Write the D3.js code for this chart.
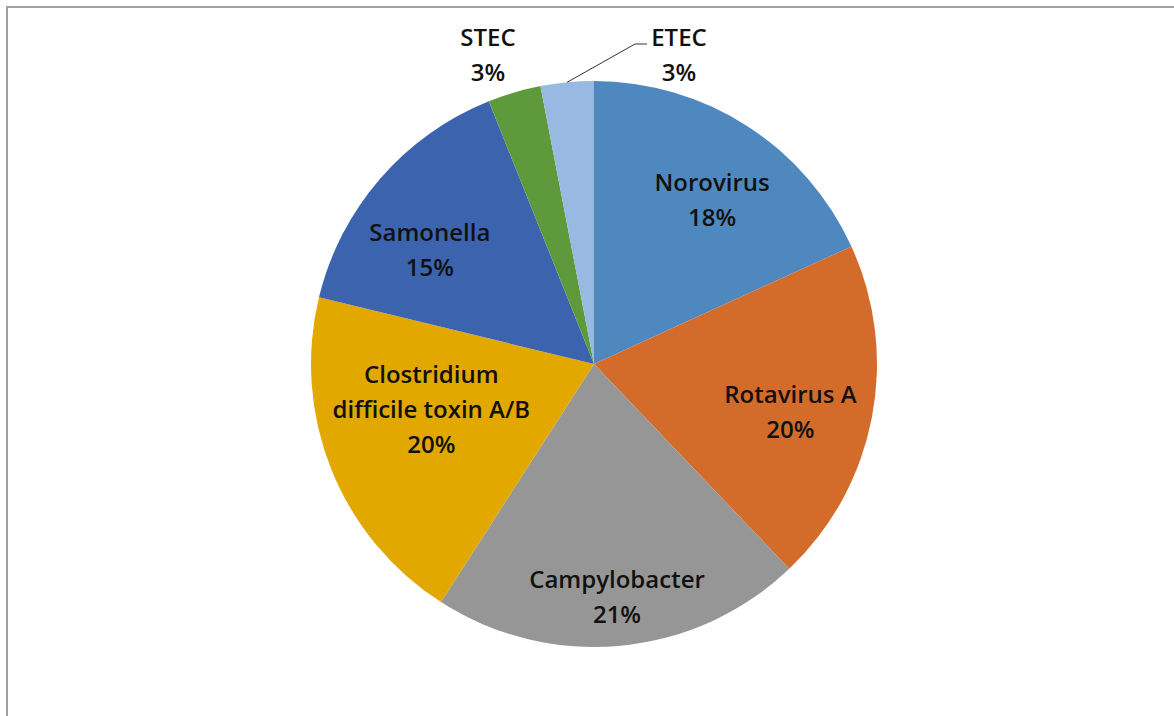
<!DOCTYPE html>
<html>
<head>
<meta charset="utf-8">
<script src="https://cdn.jsdelivr.net/npm/d3@7"></script>
<style>
  body { margin: 0; background: #fff; }
  svg text { font-family: "Open Sans", Lato, sans-serif; font-weight: 600; font-size: 24px; fill: #111; }
</style>
</head>
<body>
<svg id="chart" width="1174" height="716"></svg>
<script>
// pathogen counts (shown as % of total)
var categories = ["Norovirus", "Rotavirus A", "Campylobacter", "Clostridium difficile toxin A/B", "Samonella", "STEC", "ETEC"];
var counts = [12, 13, 14, 13, 10, 2, 2];
var colors = ["#4f88bf", "#d36c2b", "#969696", "#e2a800", "#3c64ae", "#5e9a3c", "#98b9e1"];
var labelLines = [["Norovirus"], ["Rotavirus A"], ["Campylobacter"], ["Clostridium", "difficile toxin A/B"], ["Samonella"], ["STEC"], ["ETEC"]];

var svg = d3.select("#chart");
var cx = 594, cy = 364, R = 283;

// chart frame (only top + left edges show)
svg.append("rect")
  .attr("x", 7).attr("y", 7)
  .attr("width", 1200).attr("height", 760)
  .attr("fill", "none")
  .attr("stroke", "#a0a0a0")
  .attr("stroke-width", 2);

var total = d3.sum(counts);
var pie = d3.pie().sort(null).value(function(d) { return d; });
var arcs = pie(counts);
var arc = d3.arc().innerRadius(0).outerRadius(R);

var g = svg.append("g").attr("transform", "translate(" + cx + "," + cy + ")");

g.selectAll("path")
  .data(arcs)
  .enter().append("path")
  .attr("d", arc)
  .attr("fill", function(d, i) { return colors[i]; });

// label layout: radius for the anchor + small nudges (like Excel best fit)
var labelArc = d3.arc().innerRadius(200).outerRadius(200);
var nudge = [[10, 4], [0, 10], [4, 34], [23, -29], [-13, 17]];
var lineH = 35;

function pctText(v) { return Math.round(v / total * 100) + "%"; }

arcs.forEach(function(d, i) {
  var lines = labelLines[i].concat([pctText(d.value)]);
  var x, y;
  if (i < 5) {
    var c = labelArc.centroid(d);
    x = c[0] + nudge[i][0];
    y = c[1] + nudge[i][1];
  } else if (i == 5) {
    x = 488 - cx; y = 55 - cy;
  } else {
    x = 679 - cx; y = 55 - cy;
  }
  var t = g.append("text").attr("text-anchor", "middle");
  lines.forEach(function(s, k) {
    t.append("tspan")
      .attr("x", x)
      .attr("y", y + (k - (lines.length - 1) / 2) * lineH)
      .attr("dy", "0.35em")
      .text(s);
  });
});

// leader line for ETEC
var etec = arcs[6];
var ma = (etec.startAngle + etec.endAngle) / 2;
var p0 = [Math.sin(ma) * R, -Math.cos(ma) * R];
g.append("polyline")
  .attr("points", [p0, [635 - cx, 44 - cy], [647 - cx, 44 - cy]].map(function(p) { return p.join(","); }).join(" "))
  .attr("fill", "none")
  .attr("stroke", "#333")
  .attr("stroke-width", 1);
</script>
</body>
</html>
